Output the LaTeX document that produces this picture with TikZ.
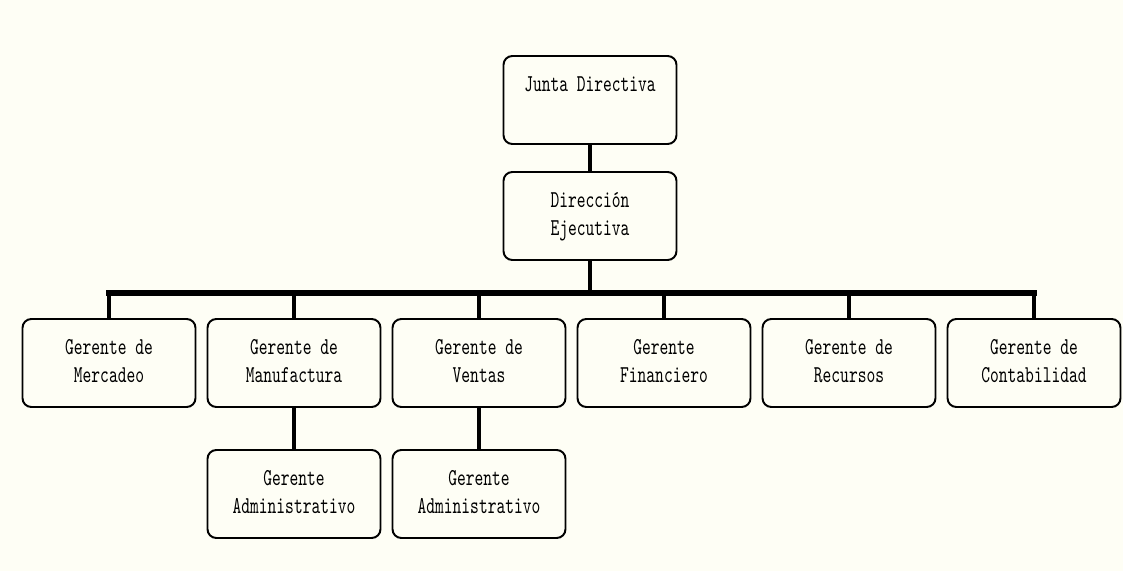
\documentclass[tikz,border=0pt]{standalone}
\usepackage{tikz}

\definecolor{paper}{RGB}{254,254,245}
\newcommand{\boxtext}[1]{\fontsize{9.5}{11}\selectfont\ttfamily%
  \scalebox{1}[1.45]{\begin{tabular}{@{}c@{}}#1\end{tabular}}}

\begin{document}
\begin{tikzpicture}[x=0.02cm, y=-0.02cm,
    unit/.style={draw, line width=1.1pt, rounded corners=5pt, inner sep=0pt,
                 minimum width=3.46cm, minimum height=1.76cm},
    link/.style={line width=1.9pt},
    bus/.style={line width=3.4pt, line cap=rect}]
    \path[use as bounding box, fill=paper] (0,0) rectangle (1123,571);

    % cabeza
    \node[unit] (junta) at (590,100) {\boxtext{Junta Directiva\\ \mbox{}}};
    \node[unit] (direccion) at (590,216) {\boxtext{Dirección\\Ejecutiva}};
    \draw[line width=2.2pt] (junta) -- (direccion);

    % gerentes
    \node[unit] (mercadeo) at (109,363) {\boxtext{Gerente de\\Mercadeo}};
    \node[unit] (manufactura) at (294,363) {\boxtext{Gerente de\\Manufactura}};
    \node[unit] (ventas) at (479,363) {\boxtext{Gerente de\\Ventas}};
    \node[unit] (financiero) at (664,363) {\boxtext{Gerente\\Financiero}};
    \node[unit] (recursos) at (849,363) {\boxtext{Gerente de\\Recursos}};
    \node[unit] (contabilidad) at (1034,363) {\boxtext{Gerente de\\Contabilidad}};

    \coordinate (bus) at (0,293);
    \draw[bus] (mercadeo.north |- bus) -- (contabilidad.north |- bus);
    \draw[link] (direccion) -- (direccion.south |- bus);
    \foreach \g in {mercadeo,manufactura,ventas,financiero,recursos,contabilidad}
        \draw[link] (\g.north |- bus) -- (\g);

    % administrativos
    \node[unit] (adminA) at (294,494) {\boxtext{Gerente\\Administrativo}};
    \node[unit] (adminB) at (479,494) {\boxtext{Gerente\\Administrativo}};
    \draw[link] (manufactura) -- (adminA);
    \draw[link] (ventas) -- (adminB);
\end{tikzpicture}
\end{document}
